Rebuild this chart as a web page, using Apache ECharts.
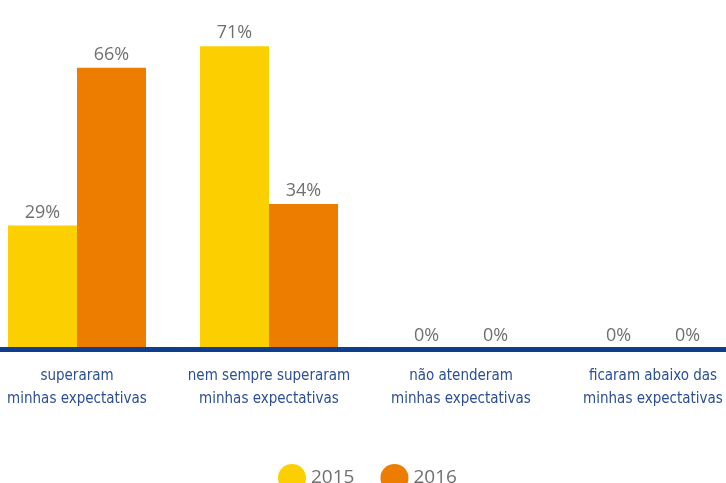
<!DOCTYPE html>
<html>
<head>
<meta charset="utf-8">
<script src="https://cdn.jsdelivr.net/npm/echarts@6/dist/echarts.min.js"></script>
<style>
  html, body { margin: 0; padding: 0; background: #fff; }
  #chart { width: 726px; height: 483px; }
</style>
</head>
<body>
<div id="chart"></div>
<script>
const categories = [
  'superaram\nminhas expectativas',
  'nem sempre superaram\nminhas expectativas',
  'não atenderam\nminhas expectativas',
  'ficaram abaixo das\nminhas expectativas'
]
const seriesNames = ['2015', '2016']
const values2015 = [29, 71, 0, 0]
const values2016 = [66, 34, 0, 0]

const colors = ['#fcd000', '#ec7d00']
const labelGray = '#707070'

function bar(name, data, color) {
  return {
    name,
    type: 'bar',
    data,
    barWidth: 69,
    barGap: '0%',
    itemStyle: { color },
    label: {
      show: true,
      position: 'top',
      distance: 4,
      color: labelGray,
      fontFamily: 'Open Sans',
      fontSize: 18,
      formatter: (p) => p.value + '%'
    }
  }
}

const chart = echarts.init(document.getElementById('chart'))
chart.setOption({
  animation: false,
  color: colors,
  // category bands run past the left edge, as in the original
  grid: { left: -19, width: 768, top: 8, bottom: 134, outerBoundsMode: 'none', containLabel: false },
  legend: {
    left: 273,
    top: 459,
    icon: 'circle',
    itemWidth: 28,
    itemHeight: 28,
    itemGap: 26,
    textStyle: { color: labelGray, fontFamily: 'Open Sans', fontSize: 19 },
    data: seriesNames
  },
  xAxis: {
    type: 'category',
    data: categories,
    z: 5,
    axisLine: { lineStyle: { color: '#0f3e8c', width: 5 } },
    axisTick: { show: false },
    axisLabel: {
      interval: 0,
      margin: 16,
      color: '#2b4f98',
      fontFamily: "'Liberation Sans Narrow', 'DejaVu Sans Condensed', 'Roboto Condensed', Roboto, sans-serif",
      fontSize: 15,
      lineHeight: 23
    }
  },
  yAxis: {
    type: 'value',
    min: 0,
    max: 80,
    show: false
  },
  series: [
    bar(seriesNames[0], values2015, colors[0]),
    bar(seriesNames[1], values2016, colors[1])
  ]
})
</script>
</body>
</html>
